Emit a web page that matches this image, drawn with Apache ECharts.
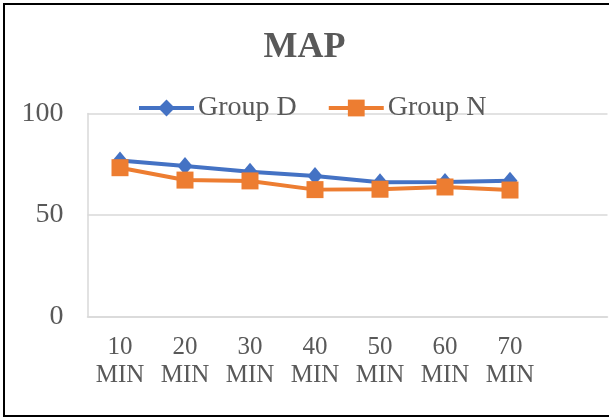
<!DOCTYPE html>
<html>
<head>
<meta charset="utf-8">
<script src="https://cdn.jsdelivr.net/npm/echarts@6/dist/echarts.min.js"></script>
<style>
html,body{margin:0;padding:0;background:#fff;}
#chart{width:609px;height:418px;}
</style>
</head>
<body>
<div id="chart"></div>
<script>
var categories = ['10 MIN', '20 MIN', '30 MIN', '40 MIN', '50 MIN', '60 MIN', '70 MIN'];
var groupD = [76.8, 74.1, 71.3, 69.2, 66.1, 66.3, 66.9];
var groupN = [73.3, 67.2, 66.8, 62.5, 62.7, 63.8, 62.3];
var yTicks = [0, 50, 100];

var chart = echarts.init(document.getElementById('chart'), null, {renderer: 'canvas'});
var font = '"Liberation Serif", "Times New Roman", serif';
var grey = '#595959';
var option = {
  backgroundColor: '#ffffff',
  animation: false,
  title: {
    text: 'MAP',
    left: 'center',
    top: 25,
    textStyle: {fontFamily: font, fontSize: 36, fontWeight: 'bold', color: grey}
  },
  legend: {
    left: 132,
    top: 89,
    itemWidth: 55,
    itemHeight: 21,
    itemGap: 30,
    lineStyle: {width: 4},
    textStyle: {fontFamily: font, fontSize: 28, color: grey, padding: [0, 0, 0, -1]},
    data: ['Group D', 'Group N']
  },
  grid: {left: 87.5, top: 113.5, width: 520, height: 203, containLabel: false},
  xAxis: {
    type: 'category',
    data: categories.concat(['']),
    boundaryGap: true,
    axisLine: {show: true, lineStyle: {color: '#D9D9D9', width: 1.5}},
    axisTick: {show: false},
    axisLabel: {
      interval: 0,
      margin: 17,
      fontFamily: font, fontSize: 25, color: grey, lineHeight: 28,
      formatter: function (v) { return v.replace(' ', '\n'); }
    }
  },
  yAxis: {
    type: 'value',
    min: yTicks[0],
    max: yTicks[yTicks.length - 1],
    interval: yTicks[1] - yTicks[0],
    axisLine: {show: true, lineStyle: {color: '#D9D9D9', width: 1.5}},
    axisTick: {show: false},
    splitLine: {lineStyle: {color: '#D9D9D9', width: 1.5}},
    axisLabel: {margin: 24, fontFamily: font, fontSize: 28, color: grey}
  },
  series: [
    {
      name: 'Group D',
      type: 'line',
      data: groupD,
      symbol: 'diamond',
      symbolSize: [15, 18],
      lineStyle: {color: '#4472C4', width: 4},
      itemStyle: {color: '#4472C4'}
    },
    {
      name: 'Group N',
      type: 'line',
      data: groupN,
      symbol: 'rect',
      symbolSize: 17,
      lineStyle: {color: '#ED7D31', width: 4},
      itemStyle: {color: '#ED7D31'}
    }
  ],
  graphic: [{
    type: 'rect',
    shape: {x: 4, y: 4, width: 700, height: 412},
    style: {fill: 'none', stroke: '#000000', lineWidth: 2},
    silent: true
  }]
};
chart.setOption(option);
</script>
</body>
</html>
